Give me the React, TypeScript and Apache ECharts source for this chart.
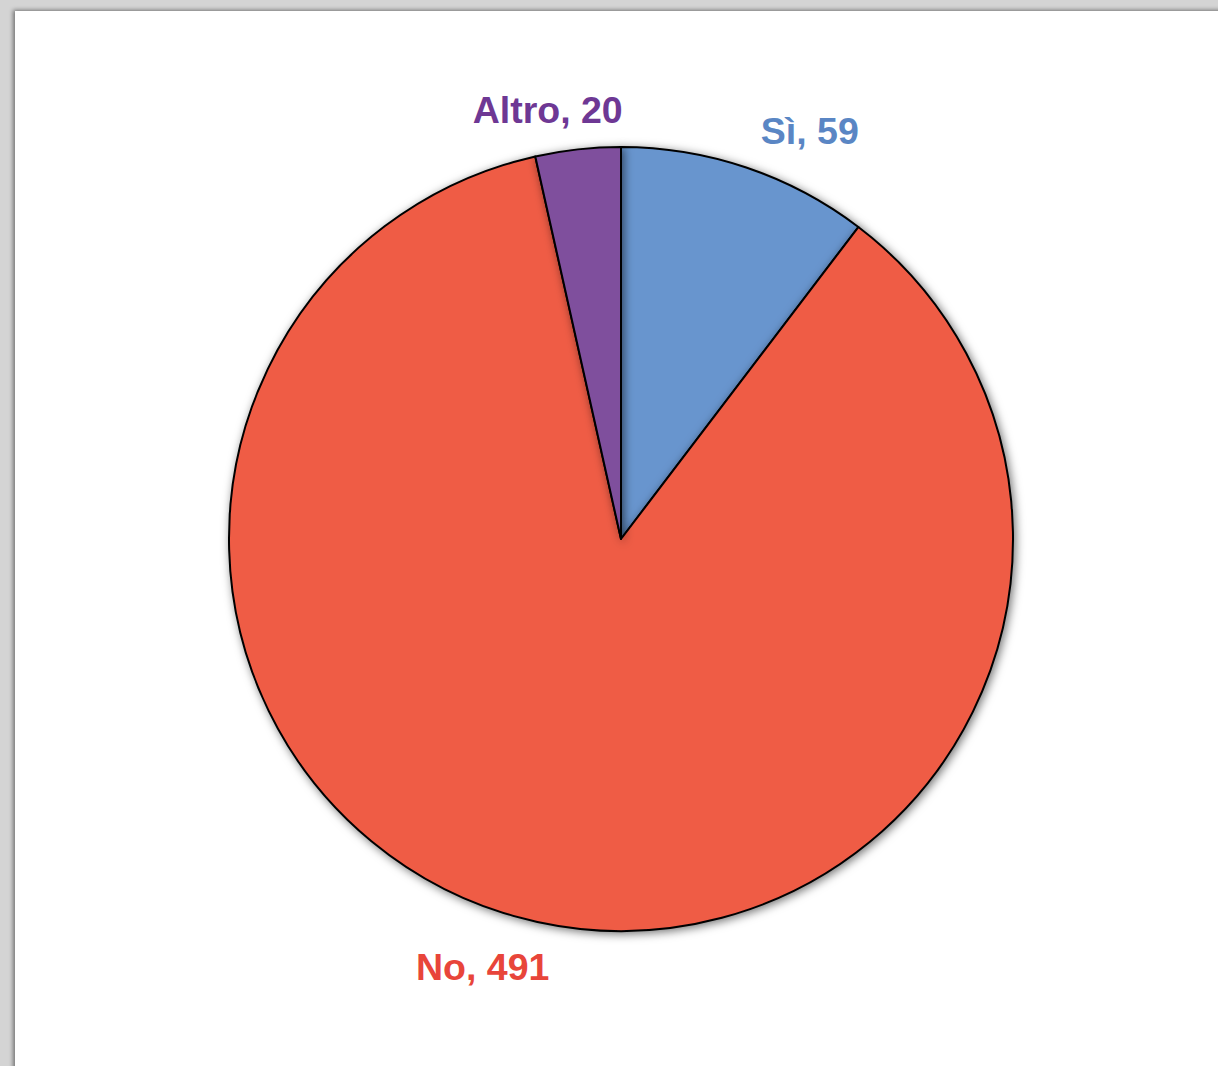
import React, { useEffect, useRef } from "react";
import * as echarts from "echarts";

const categories = ["Sì", "No", "Altro"];
const values = [59, 491, 20];
const sliceColors = ["#6795CE", "#EF5B45", "#7F4F9D"];
const labelColors = ["#5A86C4", "#E8453A", "#6E3894"];

// label placement (degrees clockwise from top, distance from centre)
const labelAngles = [24.8, 197.9, 350.3];
const labelRadii = [450, 450, 435];

const CX = 621;
const CY = 539;
const R = 392;

export default function App() {
  const ref = useRef<HTMLDivElement>(null);
  useEffect(() => {
    if (!ref.current) return;
    const chart = echarts.init(ref.current, null, { renderer: "svg" });
    chart.setOption({
      animation: false,
      backgroundColor: "#d4d4d4",
      graphic: [
        {
          type: "rect",
          z: -10,
          silent: true,
          shape: { x: 15, y: 11, width: 1400, height: 1200 },
          style: {
            fill: "#ffffff",
            shadowBlur: 4,
            shadowColor: "rgba(0,0,0,0.45)",
            shadowOffsetX: -2,
            shadowOffsetY: -1,
          },
        },
      ],
      series: [
        {
          type: "pie",
          center: [CX, CY],
          radius: [0, R],
          startAngle: 90,
          clockwise: true,
          avoidLabelOverlap: false,
          data: categories.map((name, i) => ({
            name,
            value: values[i],
            itemStyle: { color: sliceColors[i] },
            label: { color: labelColors[i] },
          })),
          itemStyle: {
            borderColor: "#000000",
            borderWidth: 2,
            shadowBlur: 10,
            shadowColor: "rgba(0,0,0,0.55)",
            shadowOffsetX: 2,
            shadowOffsetY: 2,
          },
          label: {
            show: true,
            position: "outside",
            formatter: "{b}, {c}",
            fontFamily: "Liberation Sans, Arial, sans-serif",
            fontWeight: "bold",
            fontSize: 37.5,
          },
          labelLine: { show: false },
          labelLayout: (params: any) => {
            const i = params.dataIndex;
            const a = (labelAngles[i] * Math.PI) / 180;
            return {
              x: CX + labelRadii[i] * Math.sin(a),
              y: CY - labelRadii[i] * Math.cos(a),
              align: "center",
              verticalAlign: "middle",
            };
          },
          emphasis: { disabled: true },
        },
      ],
    });
    return () => chart.dispose();
  }, []);
  return (
    <div
      ref={ref}
      style={{ position: "fixed", left: 0, top: 0, width: 1218, height: 1066 }}
    />
  );
}
